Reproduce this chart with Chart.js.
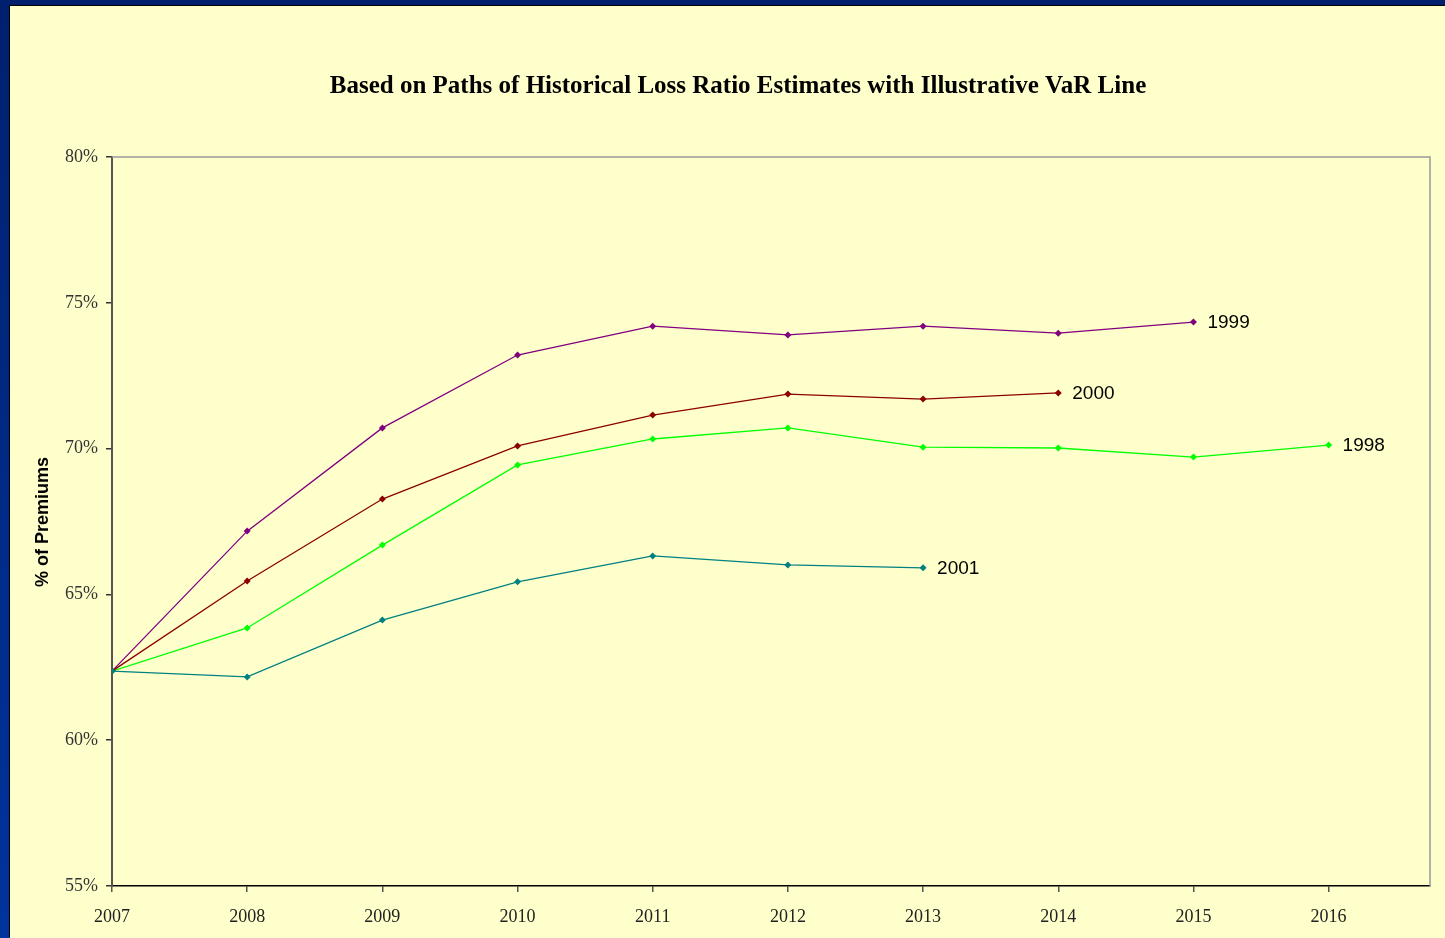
<!DOCTYPE html>
<html>
<head>
<meta charset="utf-8">
<script src="https://cdn.jsdelivr.net/npm/chart.js@4.4.1/dist/chart.umd.min.js"></script>
<style>
  html, body { margin: 0; padding: 0; }
  body {
    width: 1445px; height: 938px; overflow: hidden;
    background: linear-gradient(180deg, #00206e 0%, #00339c 100%);
  }
  #panel {
    position: absolute; left: 10px; top: 6px;
    width: 1435px; height: 932px;
    background: #ffffcc;
    box-shadow: -1px -1px 0 #000;
  }
</style>
</head>
<body>
<div id="panel"><canvas id="lossChart" width="1435" height="932"></canvas></div>
<script>
const years = [2007, 2008, 2009, 2010, 2011, 2012, 2013, 2014, 2015, 2016];
const yTicks = [55, 60, 65, 70, 75, 80];

// loss ratio paths, % of premiums, starting from the 2007 value
const path1998 = [62.37, 63.85, 66.69, 69.44, 70.33, 70.71, 70.05, 70.02, 69.71, 70.12];
const path1999 = [62.37, 67.17, 70.71, 73.21, 74.20, 73.90, 74.20, 73.96, 74.34];
const path2000 = [62.37, 65.46, 68.27, 70.09, 71.15, 71.87, 71.70, 71.91];
const path2001 = [62.37, 62.17, 64.12, 65.43, 66.32, 66.01, 65.91];

const seriesNames = ['1998', '1999', '2000', '2001'];
const seriesData = [path1998, path1999, path2000, path2001];
const seriesColors = ['#00ff00', '#800080', '#8b0000', '#008080'];

const toPoints = arr => arr.map((v, i) => ({ x: years[i], y: v }));

// frame, title, axis title and end-of-line labels
const decorations = {
  id: 'decorations',
  beforeDatasetsDraw(chart) {
    const { ctx, chartArea: a } = chart;
    ctx.save();
    ctx.strokeStyle = '#999999';
    ctx.lineWidth = 1.5;
    ctx.beginPath();
    ctx.moveTo(a.left, a.top);
    ctx.lineTo(a.right, a.top);
    ctx.lineTo(a.right, a.bottom);
    ctx.stroke();
    ctx.restore();
  },
  afterDraw(chart) {
    const { ctx } = chart;
    ctx.save();
    ctx.fillStyle = '#000';
    ctx.textAlign = 'center';
    ctx.textBaseline = 'middle';
    ctx.font = 'bold 25px "Liberation Serif", serif';
    ctx.fillText('Based on Paths of Historical Loss Ratio Estimates with Illustrative VaR Line', 728, 81);

    ctx.translate(33, 516);
    ctx.rotate(-Math.PI / 2);
    ctx.font = 'bold 18px "Liberation Sans", Arial, sans-serif';
    ctx.fillText('% of Premiums', 0, 0);
    ctx.restore();

    ctx.save();
    ctx.fillStyle = '#000';
    ctx.textAlign = 'left';
    ctx.textBaseline = 'middle';
    ctx.font = '19px "Liberation Sans", Arial, sans-serif';
    chart.data.datasets.forEach((ds, i) => {
      const meta = chart.getDatasetMeta(i);
      const last = meta.data[meta.data.length - 1];
      ctx.fillText(ds.label, last.x + 14, last.y + 1);
    });
    ctx.restore();
  }
};

new Chart(document.getElementById('lossChart'), {
  type: 'line',
  data: {
    datasets: seriesNames.map((name, i) => ({
      label: name,
      data: toPoints(seriesData[i]),
      borderColor: seriesColors[i],
      backgroundColor: seriesColors[i],
      borderWidth: 1.3,
      pointStyle: 'rectRot',
      pointRadius: 3.5,
      pointBorderWidth: 0,
      tension: 0,
      fill: false
    })).reverse()
  },
  options: {
    responsive: false,
    animation: false,
    layout: { padding: { top: 151, right: 15, left: 0, bottom: 0 } },
    plugins: {
      legend: { display: false },
      title: { display: false },
      tooltip: { enabled: false }
    },
    scales: {
      x: {
        type: 'linear',
        min: 2007,
        max: 2016.75,
        afterBuildTicks(scale) {
          scale.ticks = years.map(v => ({ value: v }));
        },
        afterFit(scale) { scale.height = 52; },
        ticks: {
          padding: 14,
          color: '#222',
          font: { family: '"Liberation Serif", serif', size: 18 },
          callback: v => String(v),
          maxRotation: 0
        },
        grid: {
          drawOnChartArea: false,
          drawTicks: true,
          tickLength: 6,
          color: '#555',
          lineWidth: 1.5
        },
        border: { color: '#000', width: 1.5 }
      },
      y: {
        min: 55,
        max: 80,
        afterBuildTicks(scale) {
          scale.ticks = yTicks.map(v => ({ value: v }));
        },
        afterFit(scale) { scale.width = 102; },
        ticks: {
          padding: 8,
          color: '#333',
          font: { family: '"Liberation Serif", serif', size: 18 },
          callback: v => v + '%'
        },
        grid: {
          drawOnChartArea: false,
          drawTicks: true,
          tickLength: 6,
          color: '#333',
          lineWidth: 1.5
        },
        border: { color: '#555', width: 2 }
      }
    }
  },
  plugins: [decorations]
});
</script>
</body>
</html>
